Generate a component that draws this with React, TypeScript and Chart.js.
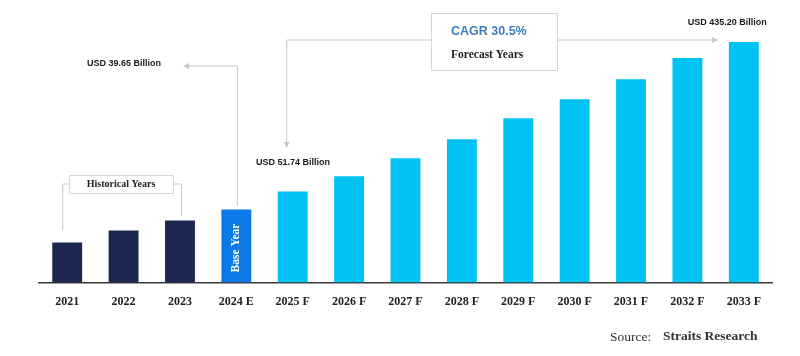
import React, { useEffect, useRef } from "react";
import { Chart, registerables } from "chart.js";

Chart.register(...registerables);

const categories = [
  "2021", "2022", "2023", "2024 E", "2025 F", "2026 F", "2027 F",
  "2028 F", "2029 F", "2030 F", "2031 F", "2032 F", "2033 F",
];
// relative bar heights as drawn (illustrative, not to scale)
const barHeights = [40, 52, 62, 73, 91, 106, 124, 143, 164, 183, 203, 224, 240];
const NAVY = "#1b2750";
const BASE_BLUE = "#0b7ae6";
const CYAN = "#00c2f3";
const barColors = [
  NAVY, NAVY, NAVY, BASE_BLUE,
  CYAN, CYAN, CYAN, CYAN, CYAN, CYAN, CYAN, CYAN, CYAN,
];
const yMax = 260;
const baseYearLabel = "USD 39.65 Billion";
const firstForecastLabel = "USD 51.74 Billion";
const lastForecastLabel = "USD 435.20 Billion";
const cagrLabel = "CAGR 30.5%";
const forecastLabel = "Forecast Years";
const historicalLabel = "Historical Years";
const baseYearText = "Base Year";

const SANS = '"Liberation Sans", Arial, sans-serif';
const SERIF = '"Liberation Serif", "Times New Roman", serif';
const LINE = "#c4c8cc";

function arrowHead(ctx: CanvasRenderingContext2D, x: number, y: number, dir: "left" | "right" | "down") {
  ctx.beginPath();
  if (dir === "left") {
    ctx.moveTo(x, y); ctx.lineTo(x + 6, y - 3); ctx.lineTo(x + 6, y + 3);
  } else if (dir === "right") {
    ctx.moveTo(x, y); ctx.lineTo(x - 6, y - 3); ctx.lineTo(x - 6, y + 3);
  } else {
    ctx.moveTo(x, y); ctx.lineTo(x - 3, y - 6); ctx.lineTo(x + 3, y - 6);
  }
  ctx.closePath();
  ctx.fill();
}

const annotationPlugin = {
  id: "annotations",
  afterDraw(chart: any) {
    const ctx: CanvasRenderingContext2D = chart.ctx;
    const bars = chart.getDatasetMeta(0).data;
    const b0 = bars[0], b2 = bars[2], b3 = bars[3], b4 = bars[4], b12 = bars[12];
    ctx.save();

    // Historical years bracket
    ctx.strokeStyle = LINE;
    ctx.fillStyle = LINE;
    ctx.lineWidth = 1;
    const hx1 = b0.x + 2, hx2 = b2.x - 7, hy1 = 175, hy2 = 193, hm = 184;
    ctx.beginPath();
    ctx.moveTo(b0.x - 4.5, b0.y - 12); ctx.lineTo(b0.x - 4.5, hm); ctx.lineTo(hx1, hm);
    ctx.moveTo(hx2, hm); ctx.lineTo(b2.x + 1.5, hm); ctx.lineTo(b2.x + 1.5, b2.y - 4);
    ctx.stroke();
    ctx.strokeStyle = "#d2d6da";
    ctx.fillStyle = "#ffffff";
    ctx.fillRect(hx1, hy1, hx2 - hx1, hy2 - hy1);
    ctx.strokeRect(hx1 + 0.5, hy1 + 0.5, hx2 - hx1, hy2 - hy1);
    ctx.fillStyle = "#222";
    ctx.font = `bold 10px ${SERIF}`;
    ctx.textAlign = "center";
    ctx.textBaseline = "middle";
    ctx.fillText(historicalLabel, (hx1 + hx2) / 2, hm + 0.5);

    // Base year arrow and label
    ctx.strokeStyle = LINE;
    ctx.fillStyle = LINE;
    ctx.beginPath();
    ctx.moveTo(b3.x + 1, b3.y - 3); ctx.lineTo(b3.x + 1, 66); ctx.lineTo(188, 66);
    ctx.stroke();
    arrowHead(ctx, 183, 66, "left");
    ctx.fillStyle = "#1a1a1a";
    ctx.font = `bold 9px ${SANS}`;
    ctx.fillText(baseYearLabel, 124, 64);

    // Forecast arrow
    const bxL = 431, bxR = 557, byT = 13, byB = 70, ay = 40;
    ctx.strokeStyle = LINE;
    ctx.fillStyle = LINE;
    ctx.beginPath();
    ctx.moveTo(b4.x - 6, 146); ctx.lineTo(b4.x - 6, ay); ctx.lineTo(bxL, ay);
    ctx.moveTo(bxR, ay); ctx.lineTo(712, ay);
    ctx.stroke();
    arrowHead(ctx, b4.x - 6, 148, "down");
    arrowHead(ctx, 718, ay, "right");

    // CAGR box
    ctx.fillStyle = "#ffffff";
    ctx.fillRect(bxL, byT, bxR - bxL, byB - byT);
    ctx.strokeStyle = "#d0d5da";
    ctx.strokeRect(bxL + 0.5, byT + 0.5, bxR - bxL, byB - byT);
    ctx.fillStyle = "#3d7dbd";
    ctx.font = `bold 12.5px ${SANS}`;
    ctx.textAlign = "left";
    ctx.fillText(cagrLabel, 451, 32);
    ctx.fillStyle = "#1e1e1e";
    ctx.font = `bold 11.5px ${SERIF}`;
    ctx.fillText(forecastLabel, 451, 55);

    // value labels
    ctx.fillStyle = "#1a1a1a";
    ctx.font = `bold 9px ${SANS}`;
    ctx.fillText(firstForecastLabel, 256, 163);
    ctx.textAlign = "right";
    ctx.fillText(lastForecastLabel, b12.x + 23, 23);

    // Base Year vertical text
    ctx.save();
    ctx.translate(b3.x, (b3.y + b3.base) / 2 + 2);
    ctx.rotate(-Math.PI / 2);
    ctx.fillStyle = "#ffffff";
    ctx.font = `bold 11.5px ${SERIF}`;
    ctx.textAlign = "center";
    ctx.textBaseline = "middle";
    ctx.fillText(baseYearText, 0, 0);
    ctx.restore();

    // Source
    ctx.textAlign = "left";
    ctx.textBaseline = "middle";
    ctx.fillStyle = "#333";
    ctx.font = `13.5px ${SERIF}`;
    ctx.fillText("Source:", 610, 337);
    ctx.font = `bold 13.5px ${SERIF}`;
    ctx.fillText("Straits Research", 663, 337);

    ctx.restore();
  },
};

export default function App() {
  const ref = useRef<HTMLCanvasElement | null>(null);
  useEffect(() => {
    document.body.style.margin = "0";
    const chart = new Chart(ref.current as HTMLCanvasElement, {
      type: "bar",
      data: {
        labels: categories,
        datasets: [
          {
            data: barHeights,
            backgroundColor: barColors,
            borderWidth: 0,
            barPercentage: 0.53,
            categoryPercentage: 1,
          },
        ],
      },
      options: {
        animation: false,
        responsive: false,
        maintainAspectRatio: false,
        layout: { padding: { left: 39, right: 28, top: 22, bottom: 35 } },
        plugins: {
          legend: { display: false },
          tooltip: { enabled: false },
        },
        scales: {
          x: {
            grid: { display: false, drawTicks: false },
            border: { display: true, color: "#3a3a3a", width: 1.5 },
            ticks: {
              color: "#222",
              padding: 12,
              font: { family: SERIF, size: 12, weight: "bold" },
              maxRotation: 0,
              autoSkip: false,
            },
          },
          y: {
            display: false,
            min: 0,
            max: yMax,
          },
        },
      },
      plugins: [annotationPlugin],
    });
    return () => chart.destroy();
  }, []);
  return (
    <div style={{ position: "fixed", left: 0, top: 0, width: 800, height: 356, background: "#fff" }}>
      <canvas ref={ref} width={800} height={356} style={{ display: "block" }} />
    </div>
  );
}
